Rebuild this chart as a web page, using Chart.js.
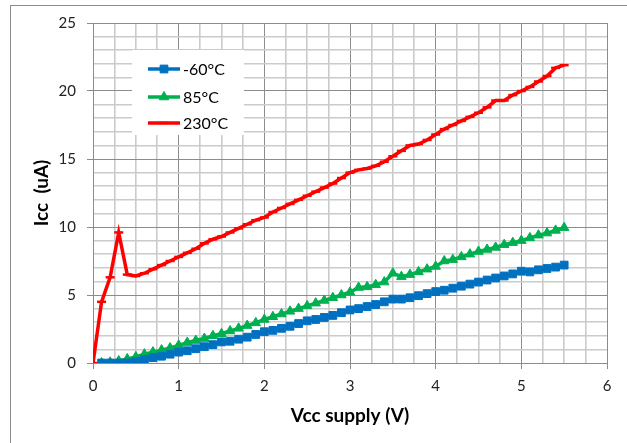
<!DOCTYPE html>
<html><head><meta charset="utf-8">
<script src="https://cdn.jsdelivr.net/npm/chart.js@4.4.0/dist/chart.umd.min.js"></script>
<style>html,body{margin:0;padding:0;background:#fff;}#wrap{width:627px;height:443px;}</style>
</head><body><div id="wrap"><canvas id="c" width="627" height="443"></canvas></div>
<script>
const vcc = [0,0.1,0.2,0.3,0.4,0.5,0.6,0.7,0.8,0.9,1.0,1.1,1.2,1.3,1.4,1.5,1.6,1.7,1.8,1.9,2.0,2.1,2.2,2.3,2.4,2.5,2.6,2.7,2.8,2.9,3.0,3.1,3.2,3.3,3.4,3.5,3.6,3.7,3.8,3.9,4.0,4.1,4.2,4.3,4.4,4.5,4.6,4.7,4.8,4.9,5.0,5.1,5.2,5.3,5.4,5.5];
const iccMinus60 = [null,0,0,0,0,0.1,0.25,0.4,0.5,0.65,0.8,0.9,1.05,1.2,1.35,1.55,1.6,1.75,1.9,2.1,2.3,2.4,2.55,2.7,2.9,3.1,3.2,3.35,3.5,3.7,3.9,4.0,4.15,4.3,4.5,4.7,4.7,4.8,4.95,5.1,5.25,5.35,5.5,5.65,5.8,5.95,6.1,6.25,6.4,6.55,6.75,6.7,6.85,6.95,7.05,7.2];
const icc85 = [null,0.0,0.05,0.15,0.3,0.45,0.65,0.8,0.95,1.1,1.3,1.5,1.65,1.8,2.0,2.15,2.35,2.55,2.75,2.95,3.2,3.4,3.6,3.8,4.0,4.2,4.4,4.6,4.8,5.0,5.2,5.55,5.6,5.75,5.95,6.6,6.35,6.5,6.7,6.9,7.1,7.5,7.6,7.8,8.0,8.2,8.35,8.5,8.7,8.85,9.0,9.2,9.4,9.55,9.75,9.95];
const icc230 = [0,4.5,6.3,9.6,6.5,6.4,6.6,6.9,7.2,7.5,7.8,8.1,8.4,8.8,9.1,9.3,9.6,9.9,10.2,10.5,10.7,11.1,11.4,11.7,12.0,12.3,12.6,12.9,13.2,13.6,14.0,14.2,14.3,14.5,14.8,15.2,15.6,16.0,16.1,16.4,16.8,17.2,17.5,17.8,18.1,18.4,18.8,19.3,19.3,19.7,20.0,20.3,20.7,21.1,21.7,21.9];
const seriesLabels = ['-60°C','85°C','230°C'];
const xTitle = 'Vcc supply (V)';
const yTitle = 'Icc  (uA)';

const pts = arr => vcc.map((v,i)=>({x:v,y:arr[i]})).filter(p=>p.y!==null);
const FONT = 'Lato, "Open Sans", sans-serif';
const MAJ = '#8c8c8c', MIN = '#cbcbcb';

const frame = {
  id:'frame',
  beforeDraw(chart){
    const c=chart.ctx; c.save();
    c.fillStyle='#fff'; c.fillRect(0,0,chart.width,chart.height);
    c.strokeStyle='#8c8c8c'; c.lineWidth=1;
    c.strokeRect(10.5,5.5,700,600);
    c.restore();
  }
};
const boxLegend = {
  id:'boxLegend',
  afterDatasetsDraw(chart){
    const c=chart.ctx; c.save();
    c.fillStyle='#fff'; c.fillRect(132,50,112,85);
    const rows=[69,97,123];
    chart.data.datasets.forEach((ds,i)=>{
      const y=rows[i];
      c.strokeStyle=ds.borderColor; c.fillStyle=ds.borderColor; c.lineWidth=3.5;
      c.beginPath(); c.moveTo(148,y); c.lineTo(180,y); c.stroke();
      c.lineWidth=ds.pointBorderWidth;
      Chart.helpers.drawPoint(c,{pointStyle:ds.pointStyle,radius:ds.pointRadius,borderWidth:ds.pointBorderWidth,rotation:0},164,y);
      c.fillStyle='#000'; c.font='16px '+FONT; c.textBaseline='middle'; c.textAlign='left';
      c.fillText(ds.label,183,y+1);
    });
    c.restore();
  }
};

const isInt = v => Math.abs(v-Math.round(v))<1e-9;
new Chart(document.getElementById('c'),{
  type:'line',
  data:{datasets:[
    {label:seriesLabels[0],data:pts(iccMinus60),borderColor:'#0070C0',backgroundColor:'#0070C0',pointBackgroundColor:'#0070C0',pointBorderColor:'#0070C0',pointStyle:'rect',pointRadius:5.5,pointBorderWidth:1,borderWidth:3.5},
    {label:seriesLabels[1],data:pts(icc85),borderColor:'#00B050',backgroundColor:'#00B050',pointBackgroundColor:'#00B050',pointBorderColor:'#00B050',pointStyle:'triangle',pointRadius:5.5,pointBorderWidth:1,borderWidth:3.5},
    {label:seriesLabels[2],data:pts(icc230),borderColor:'#FF0000',backgroundColor:'#FF0000',pointBackgroundColor:'#FF0000',pointBorderColor:'#FF0000',pointStyle:'line',pointRadius:4.5,pointBorderWidth:2.5,borderWidth:3.5}
  ]},
  options:{
    responsive:false,animation:false,
    layout:{padding:{left:0,right:20,top:23,bottom:0}},
    elements:{line:{tension:0}},
    plugins:{legend:{display:false},tooltip:{enabled:false}},
    scales:{
      x:{type:'linear',min:0,max:6,
        afterFit(s){s.height=80;},
        ticks:{stepSize:0.25,autoSkip:false,maxRotation:0,padding:8,color:'#222',font:{family:FONT,size:15},callback:v=>isInt(v)?String(Math.round(v)):''},
        grid:{color:c=>isInt(c.tick.value)?MAJ:MIN,lineWidth:c=>isInt(c.tick.value)?1:1.6,tickLength:6,tickColor:c=>isInt(c.tick.value)?MAJ:'rgba(0,0,0,0)'},
        border:{color:MAJ,width:1},
        title:{display:true,text:xTitle,color:'#000',font:{family:FONT,size:19,weight:'bold'},padding:{top:0,bottom:16}}
      },
      y:{min:0,max:25,
        afterFit(s){s.width=93;},
        ticks:{stepSize:1,autoSkip:false,padding:11,color:'#222',font:{family:FONT,size:15},callback:v=>(Math.round(v)%5===0)?String(Math.round(v)):''},
        grid:{color:c=>(Math.round(c.tick.value)%5===0)?MAJ:MIN,lineWidth:c=>(Math.round(c.tick.value)%5===0)?1:1.6,tickLength:6,tickColor:c=>(Math.round(c.tick.value)%5===0)?MAJ:'rgba(0,0,0,0)'},
        border:{color:MAJ,width:1},
        title:{display:true,text:yTitle,color:'#000',font:{family:FONT,size:19,weight:'bold'},padding:{top:30,bottom:0}}
      }
    }
  },
  plugins:[frame,boxLegend]
});
</script></body></html>
